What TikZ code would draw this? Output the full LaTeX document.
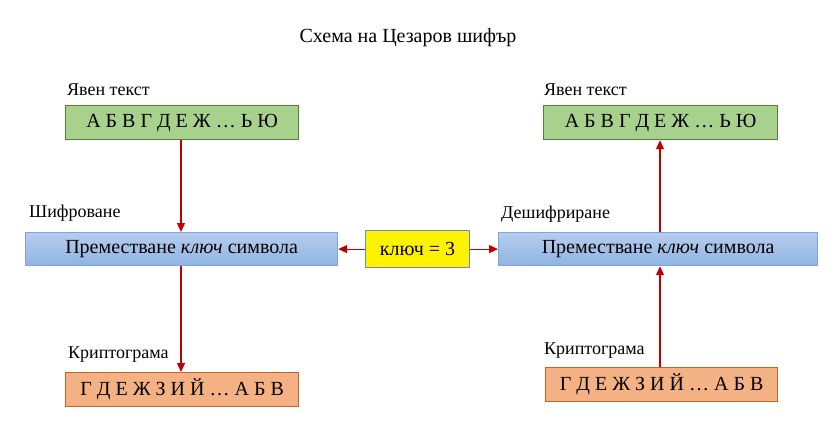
\documentclass[tikz,border=0pt]{standalone}
\usepackage{fontspec}
\setmainfont{Liberation Serif}
\usetikzlibrary{arrows.meta}
\definecolor{gfill}{HTML}{A9D18E}
\definecolor{gdraw}{HTML}{548235}
\definecolor{btop}{HTML}{B7CDEC}
\definecolor{bbot}{HTML}{8FB4E3}
\definecolor{bdraw}{HTML}{7EA6DA}
\definecolor{ofill}{HTML}{F4B183}
\definecolor{odraw}{HTML}{C0652A}
\definecolor{kdraw}{HTML}{6A8DB5}
\definecolor{arr}{HTML}{C00000}
\tikzset{
  box/.style={draw, line width=1.2pt, inner sep=0pt, anchor=north west},
  greenbox/.style={box, fill=gfill, draw=gdraw},
  bluebox/.style={box, top color=btop, bottom color=bbot, draw=bdraw},
  orangebox/.style={box, fill=ofill, draw=odraw},
  keybox/.style={box, fill=yellow, draw=kdraw},
  lbl/.style={font=\fontsize{18}{20}\selectfont, anchor=base west, inner sep=0pt},
  boxtxt/.style={font=\fontsize{20}{22}\selectfont},
  conn/.style={draw=arr, line width=1.2pt, -{Triangle[length=9pt,width=8pt]}}
}
\begin{document}
\begin{tikzpicture}[x=1pt,y=-1pt]
\useasboundingbox (0,0) rectangle (840,440);
\node[font=\fontsize{20}{22}\selectfont, inner sep=0pt] (title) at (408,38) {Схема на Цезаров шифър};

% left column
\node[greenbox, minimum width=233pt, minimum height=34pt] (g1) at (65,105) {};
\node[boxtxt] (g1t) at (g1.center) {А Б В Г Д Е Ж … Ь Ю};
\node[lbl] (g1l) at (67,95) {Явен текст};

\node[bluebox, minimum width=312pt, minimum height=33pt] (b1) at (25,232) {};
\node[boxtxt] (b1t) at (b1.center) {Преместване \textit{ключ} символа};
\node[lbl] (b1l) at (29,217) {Шифроване};

\node[orangebox, minimum width=233pt, minimum height=34pt] (o1) at (65,372) {};
\node[boxtxt] (o1t) at (o1.center) {Г Д Е Ж З И Й … А Б В};
\node[lbl] (o1l) at (68,358) {Криптограма};

% key
\node[keybox, minimum width=104pt, minimum height=37pt] (k) at (365,230) {};
\node[boxtxt] (kt) at (k.center) {ключ = 3};

% right column
\node[greenbox, minimum width=234pt, minimum height=34pt] (g2) at (543,105) {};
\node[boxtxt] (g2t) at (g2.center) {А Б В Г Д Е Ж … Ь Ю};
\node[lbl] (g2l) at (544,95) {Явен текст};

\node[bluebox, minimum width=319pt, minimum height=33pt] (b2) at (498,232) {};
\node[boxtxt] (b2t) at (b2.center) {Преместване \textit{ключ} символа};
\node[lbl] (b2l) at (501,218) {Дешифриране};

\node[orangebox, minimum width=232pt, minimum height=34pt] (o2) at (545,367) {};
\node[boxtxt] (o2t) at (o2.center) {Г Д Е Ж З И Й … А Б В};
\node[lbl] (o2l) at (544,354) {Криптограма};

% connectors
\draw[conn] (g1.south -| 181,0) -- (b1.north -| 181,0);
\draw[conn] (b1.south -| 181,0) -- (o1.north -| 181,0);
\draw[conn] (b2.north -| 660,0) -- (g2.south -| 660,0);
\draw[conn] (o2.north -| 660,0) -- (b2.south -| 660,0);
\draw[conn] (k.west) -- (b1.east);
\draw[conn] (k.east) -- (b2.west);
\end{tikzpicture}
\end{document}
